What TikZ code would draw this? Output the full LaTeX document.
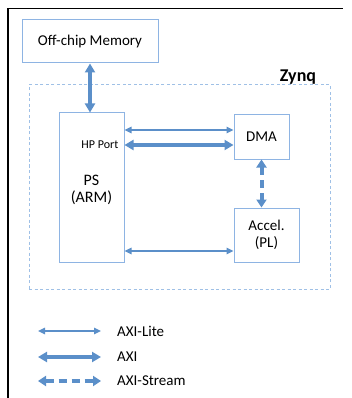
\documentclass[tikz,border=0pt]{standalone}
\usepackage{fontspec}
\setmainfont{Carlito}
\usetikzlibrary{arrows.meta}
\definecolor{arr}{HTML}{5B8FC9}
\definecolor{boxc}{HTML}{8EB4E3}
\definecolor{zyn}{HTML}{9FC0E6}
\begin{document}
\begin{tikzpicture}[x=1pt,y=-1pt,
  blk/.style={draw=boxc,line width=1pt,fill=white,inner sep=0pt,align=center,font=\fontsize{15}{17}\selectfont},
  lite/.style={draw=arr,line width=1.5pt,{Triangle[width=6.5pt,length=7pt]}-{Triangle[width=6.5pt,length=7pt]}},
  axi/.style={draw=arr,line width=4pt,{Triangle[width=10pt,length=9pt]}-{Triangle[width=10pt,length=9pt]}},
  strm/.style={draw=arr,line width=4pt,dash pattern=on 8pt off 5pt,{Triangle[width=10pt,length=8pt]}-{Triangle[width=10pt,length=8pt]}},
  lbl/.style={inner sep=0pt,anchor=west,font=\fontsize{15}{17}\selectfont}]
\useasboundingbox (0,0) rectangle (351,398);
\fill[white] (0,0) rectangle (351,398);
\draw[black,line width=1.5pt] (8,398) -- (8,8.5) -- (343,8.5);
% Zynq boundary
\node[draw=zyn,line width=1pt,dash pattern=on 3pt off 2.5pt,minimum width=301pt,minimum height=204pt,inner sep=0pt] (zynq) at (179.5,187) {};
\node[inner sep=0pt,font=\fontsize{18}{20}\selectfont\bfseries] (zt) at (298,77) {Zynq};
% blocks
\node[blk,minimum width=136pt,minimum height=43pt] (mem) at (90,41.5) {Off-chip Memory};
\node[blk,minimum width=65pt,minimum height=149pt] (ps) at (91.5,187.5) {};
\node[blk,minimum width=55pt,minimum height=44pt] (dma) at (261.5,137) {DMA};
\node[blk,minimum width=65pt,minimum height=54pt] (acc) at (266.5,235) {Accel.\\(PL)};
\node[inner sep=0pt,align=center,font=\fontsize{16}{17}\selectfont] (pst) at (91.5,189.5) {PS\\(ARM)};
\node[inner sep=0pt,anchor=east,font=\fontsize{12}{14}\selectfont] (hp) at (118.5,145) {HP Port};
% connectors
\draw[axi] (mem.south) -- (mem.south |- ps.north);
\draw[lite] (ps.east |- 0,130) -- (dma.west |- 0,130);
\draw[axi] (ps.east |- 0,145) -- (dma.west |- 0,145);
\draw[lite] (ps.east |- 0,251) -- (acc.west |- 0,251);
\draw[strm] (dma.south) -- (dma.south |- acc.north);
% legend
\coordinate (l1a) at (38,331); \coordinate (l1b) at (101,331);
\coordinate (l2a) at (38,357); \coordinate (l2b) at (101,357);
\coordinate (l3a) at (38,381); \coordinate (l3b) at (101,381);
\draw[lite] (l1a) -- (l1b);
\draw[axi] (l2a) -- (l2b);
\draw[strm] (l3a) -- (l3b);
\node[lbl] (t1) at (117,331) {AXI-Lite};
\node[lbl] (t2) at (117,357) {AXI};
\node[lbl] (t3) at (117,381) {AXI-Stream};
\end{tikzpicture}
\end{document}
